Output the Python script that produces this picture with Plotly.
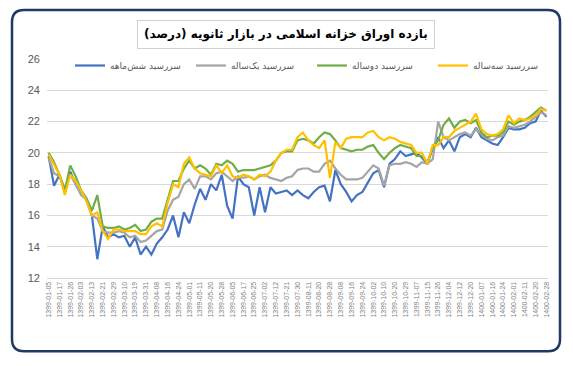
import plotly.graph_objects as go

tick_labels = ["1399-01-05","1399-01-17","1399-01-26","1399-02-03","1399-02-13","1399-02-21","1399-02-29",
"1399-03-10","1399-03-19","1399-03-31","1399-04-08","1399-04-16","1399-04-24","1399-05-01","1399-05-11",
"1399-05-20","1399-05-28","1399-06-05","1399-06-17","1399-06-25","1399-07-02","1399-07-12","1399-07-21",
"1399-07-30","1399-08-11","1399-08-20","1399-08-28","1399-09-08","1399-09-16","1399-09-24","1399-10-02",
"1399-10-10","1399-10-20","1399-10-29","1399-11-07","1399-11-15","1399-11-26","1399-12-04","1399-12-12",
"1399-12-20","1400-01-07","1400-01-16","1400-01-24","1400-02-01","1400-02-11","1400-02-20","1400-02-28"]

six_month = [19.8,17.9,18.6,17.5,18.8,18.0,17.4,17.0,16.0,13.2,15.3,14.6,14.8,14.6,14.7,14.0,14.6,13.5,14.0,13.5,
14.2,14.6,15.1,16.0,14.6,16.2,15.5,16.7,17.7,17.0,18.0,17.6,18.6,16.6,15.8,18.5,18.0,17.8,16.0,17.8,
16.2,17.8,17.4,17.5,17.6,17.3,17.6,17.3,17.1,17.5,17.8,17.9,16.9,18.9,18.0,17.5,16.9,17.3,17.5,18.1,
18.7,18.9,17.8,19.3,19.6,20.1,19.8,19.9,20.0,19.7,19.3,20.3,21.0,20.3,20.8,20.1,21.0,21.2,21.0,21.6,
21.0,20.8,20.6,20.5,21.0,21.6,21.5,21.5,21.6,21.9,22.0,22.7,22.3]

one_year = [19.7,18.7,18.5,17.7,18.6,18.0,17.3,17.0,16.0,15.8,15.0,14.9,14.9,15.0,14.9,14.6,14.7,14.3,14.4,14.7,
15.0,15.1,16.3,17.0,17.2,18.0,18.3,17.7,18.5,18.5,18.3,18.7,18.8,18.5,18.2,18.5,18.4,18.5,18.3,18.5,
18.6,18.4,18.3,18.2,18.4,18.5,18.9,19.0,19.0,18.8,18.8,19.3,19.5,19.0,18.6,18.3,18.3,18.3,18.4,18.8,
19.2,19.0,17.9,19.2,19.3,19.3,19.4,19.3,19.1,19.4,19.3,19.6,22.0,21.0,20.8,21.0,21.2,21.3,21.1,21.5,
21.2,20.9,20.8,21.0,21.1,21.7,21.6,21.7,21.8,22.0,22.3,22.6,22.4]

two_year = [20.0,19.4,18.6,17.6,19.2,18.5,17.6,17.1,16.3,17.3,15.3,15.2,15.2,15.3,15.1,15.2,15.4,15.0,15.1,15.6,
15.8,15.8,17.0,18.2,18.2,19.0,19.5,19.0,19.2,19.0,18.6,19.3,19.2,19.5,19.3,18.8,18.9,18.9,18.9,19.0,
19.1,19.2,19.5,20.0,20.1,20.1,20.8,20.9,20.8,20.6,21.0,21.3,21.2,20.8,20.3,20.2,20.1,20.2,20.2,20.4,
20.5,20.0,19.6,20.0,20.3,20.5,20.4,20.3,19.8,19.8,19.4,20.3,20.8,21.8,22.2,21.6,22.0,22.1,21.9,22.1,
21.3,21.0,21.1,21.1,21.3,22.0,21.8,22.0,22.1,22.3,22.6,22.9,22.7]

three_year = [19.9,19.2,18.6,17.3,18.6,18.2,17.6,16.9,16.0,16.2,15.0,14.5,15.1,15.1,15.0,15.0,15.0,14.8,14.8,15.3,
15.5,15.3,16.8,18.0,17.8,19.3,19.7,19.0,18.7,18.6,18.5,19.2,18.7,19.2,18.5,18.4,18.6,18.5,18.3,18.6,
18.5,18.8,19.5,20.0,20.2,20.2,21.0,21.3,20.8,20.5,20.3,20.8,18.4,20.7,20.3,20.9,21.0,21.0,21.0,21.3,
21.4,21.0,20.8,21.0,20.9,20.7,20.6,20.5,20.0,20.0,19.3,20.5,20.5,21.0,21.0,21.4,21.6,21.8,22.0,22.5,
21.5,21.2,21.1,21.2,21.5,22.4,21.9,22.2,22.1,22.2,22.4,22.8,22.7]

series_names = ["سررسید شش‌ماهه", "سررسید یک‌ساله", "سررسید دوساله", "سررسید سه‌ساله"]
series_values = [six_month, one_year, two_year, three_year]
series_colors = ["#4472C4", "#A5A5A5", "#70AD47", "#FFC000"]

title_text = "بازده اوراق خزانه اسلامی در بازار ثانویه (درصد)"

STEP = 2  # points per labelled interval
x_idx = list(range(len(six_month)))
tick_vals = [i * STEP for i in range(len(tick_labels))]

# page body has an 8px default margin; work in target (screen) pixels
OFF = 8
W, H = 573 - OFF, 366 - OFF
PL, PR, PT, PB = 47, 548, 59, 278.5          # plot box in screen pixels
ML, MR, MT, MB = PL - OFF, W - (PR - OFF), PT - OFF, H - (PB - OFF)
PW, PH = PR - PL, PB - PT

def px(x):
    return (x - PL) / PW

def py(y):
    return (PB - y) / PH

fig = go.Figure()
for name, vals, col in zip(series_names, series_values, series_colors):
    fig.add_trace(go.Scatter(x=x_idx, y=vals, mode="lines", name=name,
                             line=dict(color=col, width=2.2)))

# rounded outer frame
x0, x1, y0, y1, r = 12, 560, 10, 352, 12
path = (f"M {px(x0+r)},{py(y0)} L {px(x1-r)},{py(y0)} Q {px(x1)},{py(y0)} {px(x1)},{py(y0+r)} "
        f"L {px(x1)},{py(y1-r)} Q {px(x1)},{py(y1)} {px(x1-r)},{py(y1)} "
        f"L {px(x0+r)},{py(y1)} Q {px(x0)},{py(y1)} {px(x0)},{py(y1-r)} "
        f"L {px(x0)},{py(y0+r)} Q {px(x0)},{py(y0)} {px(x0+r)},{py(y0)} Z")
fig.add_shape(type="path", path=path, xref="paper", yref="paper",
              line=dict(color="#1F3864", width=2.5), layer="below")

fig.add_annotation(text="<b>" + title_text + "</b>", xref="paper", yref="paper",
                   x=px(286), y=py(34), xanchor="center", yanchor="middle", showarrow=False,
                   font=dict(family="DejaVu Sans", size=12, color="#000000"),
                   bordercolor="#D0D0D0", borderwidth=1, borderpad=6, bgcolor="white")

fig.update_layout(
    width=W, height=H,
    margin=dict(l=ML, r=MR, t=MT, b=MB, autoexpand=False),
    paper_bgcolor="white", plot_bgcolor="white",
    showlegend=True,
    legend=dict(orientation="h", x=px(70), y=py(51), xanchor="left", yanchor="top",
                font=dict(family="DejaVu Sans", size=9, color="#595959"),
                bgcolor="rgba(255,255,255,0)", itemwidth=30, tracegroupgap=0,
                entrywidthmode="pixels", entrywidth=76),
    xaxis=dict(tickmode="array", tickvals=tick_vals, ticktext=tick_labels, tickangle=-90,
               range=[-0.3, x_idx[-1] + 0.3], showgrid=False, zeroline=False, automargin=False,
               showline=True, linecolor="#D9D9D9", linewidth=1, ticks="",
               tickfont=dict(family="Liberation Sans", size=7, color="#7F7F7F")),
    yaxis=dict(range=[12, 26], dtick=2, showgrid=True, gridcolor="#D9D9D9", gridwidth=1,
               zeroline=False, showline=False, ticks="", ticklabelstandoff=6, automargin=False,
               tickfont=dict(family="Liberation Sans", size=11, color="#595959")),
)

fig.write_html("out.html")
